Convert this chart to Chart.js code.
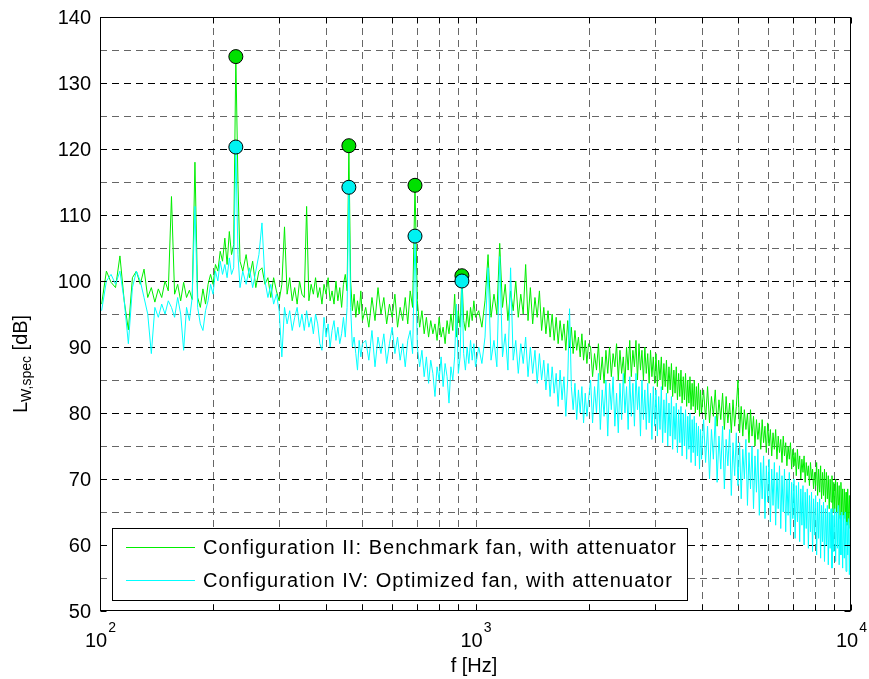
<!DOCTYPE html>
<html>
<head>
<meta charset="utf-8">
<title>Sound power spectrum</title>
<script src="https://cdn.jsdelivr.net/npm/chart.js@4.4.1/dist/chart.umd.min.js"></script>
<style>
    html, body { margin: 0; padding: 0; background: #fff; }
    canvas { display: block; }
</style>
</head>
<body>
<canvas id="spectrumChart" width="869" height="679"></canvas>
<script>
// frequency bins [Hz] (finer at low f, coarser at high f)
const freqHz = [
    101, 104, 107, 110, 113, 116, 119, 122, 125, 128,
    131, 134, 137, 140, 143, 146, 149, 152, 155, 158,
    161, 164, 167, 170, 173, 176, 179, 182, 185, 188,
    191, 194, 197, 200, 203, 206, 209, 212, 215, 218,
    221, 224, 227, 230,
    233, 236, 240, 245, 250, 255, 260, 265, 270, 275,
    280, 285, 290, 295, 300, 305, 310, 315, 320, 325,
    330, 335, 340, 345, 350, 355, 360, 365, 370, 375,
    380, 385, 390, 395, 400, 405, 410, 415, 420, 425,
    430, 435, 440, 445, 450, 455, 460, 465, 470, 475,
    480, 485, 490, 495, 500,
    510, 520, 530, 540, 550, 560, 570, 580, 590, 600,
    610, 620, 630, 640, 650, 660, 670, 680, 690, 700,
    710, 720, 730, 740, 750, 760, 770, 780, 790, 800,
    810, 820, 830, 840, 850, 860, 870, 880, 890, 900,
    910, 920, 930, 940, 950, 960, 970, 980, 990, 1000,
    1020, 1040, 1060, 1080, 1100, 1120, 1140, 1160, 1180, 1200,
    1220, 1240, 1260, 1280, 1300, 1320, 1340, 1360, 1380, 1400,
    1420, 1440, 1460, 1480, 1500, 1520, 1540, 1560, 1580, 1600,
    1620, 1640, 1660, 1680, 1700, 1720, 1740, 1760, 1780, 1800,
    1820, 1840, 1860, 1880, 1900, 1920, 1940, 1960, 1980, 2000,
    2025, 2050, 2075, 2100, 2125, 2150, 2175, 2200, 2225, 2250,
    2275, 2300, 2325, 2350, 2375, 2400, 2425, 2450, 2475, 2500,
    2525, 2550, 2575, 2600, 2625, 2650, 2675, 2700, 2725, 2750,
    2775, 2800, 2825, 2850, 2875, 2900, 2925, 2950, 2975, 3000,
    3025, 3050, 3075, 3100, 3125, 3150, 3175, 3200, 3225, 3250,
    3275, 3300, 3325, 3350, 3375, 3400, 3425, 3450, 3475, 3500,
    3525, 3550, 3575, 3600, 3625, 3650, 3675, 3700, 3725, 3750,
    3775, 3800, 3825, 3850, 3875, 3900, 3925, 3950, 3975, 4000,
    4050, 4100, 4150, 4200, 4250, 4300, 4350, 4400, 4450, 4500,
    4550, 4600, 4650, 4700, 4750, 4800, 4850, 4900, 4950, 5000,
    5050, 5100, 5150, 5200, 5250, 5300, 5350, 5400, 5450, 5500,
    5550, 5600, 5650, 5700, 5750, 5800, 5850, 5900, 5950, 6000,
    6050, 6100, 6150, 6200, 6250, 6300, 6350, 6400, 6450, 6500,
    6550, 6600, 6650, 6700, 6750, 6800, 6850, 6900, 6950, 7000,
    7050, 7100, 7150, 7200, 7250, 7300, 7350, 7400, 7450, 7500,
    7550, 7600, 7650, 7700, 7750, 7800, 7850, 7900, 7950, 8000,
    8050, 8100, 8150, 8200, 8250, 8300, 8350, 8400, 8450, 8500,
    8550, 8600, 8650, 8700, 8750, 8800, 8850, 8900, 8950, 9000,
    9050, 9100, 9150, 9200, 9250, 9300, 9350, 9400, 9450, 9500,
    9550, 9600, 9650, 9700, 9750, 9800, 9850, 9900, 9950, 10000
];

// Configuration II: benchmark fan, with attenuator [dB]
const benchmarkDb = [
    96.5, 101.5, 99.8, 99.0, 103.8, 97.0, 92.6, 100.5, 101.5, 99.5,
    101.8, 97.5, 99.0, 96.8, 98.8, 97.5, 100.0, 98.5, 112.8, 98.0,
    99.5, 97.0, 99.8, 97.5, 98.6, 97.2, 118.0, 97.5, 96.0, 98.8,
    96.5, 99.5, 101.0, 99.5, 102.5, 101.5, 104.5, 103.0, 106.5, 102.5,
    107.5, 104.0, 105.5, 134.0,
    115.0, 103.0, 101.5, 104.0, 100.5, 103.0, 99.0, 101.5, 102.0, 99.5,
    100.5, 97.5, 100.5, 98.5, 97.0, 99.5, 108.2, 98.0, 100.5, 97.0,
    99.0, 96.5, 100.0, 98.0, 97.5, 111.3, 97.0, 99.5, 98.0, 100.5,
    97.5, 99.0, 96.5, 99.5, 98.0, 100.5, 97.0, 98.5, 96.5, 100.0,
    97.0, 99.0, 96.0, 99.5, 101.0, 98.5, 120.5, 100.0, 95.5, 98.0,
    94.5, 97.0, 95.0, 98.5, 94.0,
    96.0, 93.0, 97.5, 94.0, 99.0, 95.0, 97.5, 93.5, 96.5, 94.5,
    98.0, 93.0, 96.0, 94.0, 97.5, 93.5, 98.5, 96.0, 114.5, 97.0,
    93.0, 95.5, 92.0, 94.5, 91.5, 94.0, 92.0, 93.5, 91.0, 94.5,
    91.5, 93.0, 90.5, 94.0, 92.0, 95.0, 92.5, 98.0, 91.5, 95.5,
    93.0, 100.8, 94.0, 92.5, 95.5, 93.0, 96.0, 94.0, 97.0, 94.5,
    95.5, 93.0, 97.0, 104.0, 94.5, 98.0, 95.0, 105.7, 96.0, 99.5,
    94.0, 98.5, 95.5, 100.0, 94.5, 98.0, 95.0, 102.5, 94.0, 99.0,
    93.5, 97.5, 94.5, 98.5, 92.5, 96.0, 92.0, 95.5, 91.5, 95.0,
    91.0, 94.5, 90.5, 94.0, 91.0, 93.5, 89.5, 94.0, 90.0, 93.0,
    89.0, 92.5, 89.5, 91.5, 88.5, 92.0, 88.0, 91.0, 87.5, 90.5,
    90.0, 85.5, 89.0, 86.5, 90.5, 85.0, 88.5, 84.5, 89.5, 86.0,
    90.0, 85.5, 89.0, 87.0, 90.5, 85.0, 89.5, 86.0, 88.5, 84.5,
    90.0, 86.5, 91.0, 85.5, 89.5, 87.0, 91.0, 85.0, 90.5, 86.5,
    89.5, 85.0, 90.0, 86.0, 89.0, 84.5, 89.5, 85.5, 88.5, 84.5,
    89.0, 84.0, 88.0, 85.0, 88.5, 83.5, 87.5, 84.0, 88.0, 83.0,
    87.0, 83.5, 87.5, 82.5, 86.5, 83.0, 87.0, 82.0, 86.0, 82.5,
    86.5, 81.5, 85.5, 82.0, 86.0, 81.0, 85.0, 81.5, 85.5, 80.5,
    84.5, 81.0, 85.0, 80.0, 84.0, 80.5, 84.5, 79.5, 83.5, 80.0,
    83.5, 79.0, 84.0, 78.5, 82.5, 79.5, 83.5, 78.0, 82.0, 79.0,
    83.0, 77.5, 82.5, 78.5, 81.5, 77.0, 82.0, 78.0, 81.0, 85.0,
    77.0, 81.0, 76.5, 80.5, 77.5, 80.0, 75.5, 80.5, 76.5, 79.5,
    75.0, 79.0, 76.0, 78.5, 74.5, 79.0, 75.5, 78.0, 74.0, 78.5,
    75.0, 77.5, 73.5, 77.0, 74.5, 77.5, 73.0, 76.5, 74.0, 76.0,
    72.5, 76.5, 73.5, 75.5, 72.0, 75.0, 73.0, 75.5, 71.5, 74.5,
    72.0, 74.0, 70.5, 74.5, 71.5, 73.5, 70.0, 73.0, 71.0, 73.5,
    69.5, 72.5, 70.5, 72.0, 69.0, 72.5, 70.0, 71.5, 68.5, 71.0,
    69.0, 72.5, 67.5, 71.5, 68.0, 72.0, 67.0, 71.0, 67.5, 71.5,
    66.5, 71.0, 67.0, 70.5, 65.5, 70.0, 66.5, 70.5, 65.0, 69.5,
    65.5, 70.0, 64.5, 69.5, 65.0, 69.0, 64.0, 69.5, 64.5, 68.5,
    63.5, 68.5, 64.0, 68.0, 63.0, 68.5, 63.5, 67.5, 62.5, 75.5
];

// Configuration IV: optimized fan, with attenuator [dB]
const optimizedDb = [
    95.5, 100.0, 101.0, 99.5, 101.5, 97.0, 90.5, 99.0, 101.5, 100.0,
    97.5, 95.0, 89.0, 96.0, 94.5, 96.5, 95.0, 97.0, 96.0, 94.5,
    97.5, 95.0, 89.5, 96.0, 94.0, 97.5, 111.3, 96.0, 93.5, 92.5,
    95.5, 97.0, 99.5, 98.0, 101.5, 100.0, 103.0, 101.0, 102.5, 100.5,
    103.5, 101.0, 102.0, 120.3,
    104.0, 99.0, 101.5, 99.5, 102.0, 99.0, 101.5, 104.0, 108.8, 100.0,
    97.5, 99.5, 96.5, 98.0, 95.5, 88.5, 96.0, 93.5, 95.5, 92.5,
    94.5, 96.0, 93.0, 95.0, 92.5, 95.5, 93.0, 94.5, 92.0, 95.0,
    93.5, 90.5, 89.5, 94.5, 91.5, 93.5, 90.0, 92.5, 94.0, 91.0,
    93.0, 90.5, 92.0, 94.5, 91.5, 96.0, 114.2, 96.0, 90.0, 91.5,
    89.0, 86.5, 91.0, 88.5, 90.5,
    91.0, 88.0, 92.5, 87.0, 91.5, 89.0, 92.0, 87.5, 90.5, 93.0,
    89.0, 91.5, 88.0, 90.5, 87.0, 91.0, 92.5, 89.0, 106.8, 90.0,
    87.0, 89.5, 85.5, 88.5, 84.5, 88.0, 86.0, 82.5, 87.0, 85.0,
    88.5, 84.0, 87.5, 85.5, 81.5, 87.0, 85.0, 88.5, 96.5, 86.0,
    88.5, 100.0, 89.0, 86.5, 90.0, 87.5, 91.0, 88.0, 90.5, 87.0,
    90.0, 87.5, 91.5, 102.0, 88.0, 91.0, 87.0, 103.7, 88.5, 92.0,
    86.5, 102.0, 88.0, 91.0, 86.0, 90.5, 87.5, 91.5, 85.5, 90.0,
    86.0, 89.5, 84.5, 89.0, 85.0, 88.0, 83.5, 87.5, 82.5, 87.0,
    83.0, 86.0, 81.0, 86.5, 82.0, 85.5, 79.5, 85.0, 95.8, 84.0,
    80.5, 84.5, 79.0, 83.5, 80.0, 84.0, 78.5, 83.0, 79.5, 82.0,
    85.0, 78.5, 84.0, 80.0, 86.0, 77.5, 83.5, 79.5, 85.0, 76.5,
    84.5, 80.5, 85.5, 78.0, 83.0, 77.0, 84.5, 79.0, 86.0, 80.0,
    84.0, 77.5, 85.5, 79.5, 84.5, 78.0, 86.0, 80.5, 84.0, 76.5,
    85.0, 79.0, 83.5, 77.5, 84.5, 78.5, 83.0, 76.0, 84.0, 78.0,
    83.5, 76.5, 82.5, 77.5, 84.0, 75.5, 82.0, 77.0, 83.0, 75.0,
    81.5, 76.5, 82.5, 74.5, 81.0, 76.0, 81.5, 74.0, 80.5, 75.5,
    81.0, 73.5, 80.0, 75.0, 80.5, 73.0, 79.5, 74.5, 80.0, 72.5,
    79.0, 74.0, 79.5, 72.0, 78.5, 73.5, 78.0, 71.5, 77.5, 73.0,
    79.0, 72.5, 78.0, 70.0, 77.5, 73.0, 79.5, 69.5, 76.5, 71.5,
    78.0, 68.5, 76.0, 72.0, 77.5, 67.5, 75.5, 70.5, 77.0, 69.0,
    75.5, 67.0, 74.5, 70.0, 76.0, 66.0, 74.0, 68.5, 75.0, 65.5,
    73.5, 68.0, 74.5, 64.5, 72.5, 67.0, 73.5, 64.0, 72.0, 66.5,
    73.0, 63.5, 71.5, 66.0, 72.5, 63.0, 71.0, 65.5, 72.0, 62.5,
    70.5, 65.0, 71.5, 62.0, 70.0, 64.5, 71.0, 61.5, 69.5, 64.0,
    70.0, 61.0, 69.0, 63.5, 69.5, 60.5, 68.5, 63.0, 69.0, 60.0,
    68.0, 62.5, 68.5, 59.5, 67.5, 62.0, 68.0, 59.0, 67.0, 61.5,
    67.5, 58.5, 66.5, 61.0, 67.0, 58.0, 66.0, 60.5, 66.5, 57.5,
    65.5, 60.0, 66.0, 57.0, 65.0, 59.5, 65.5, 56.5, 64.5, 59.0,
    65.5, 57.5, 65.0, 59.5, 66.0, 57.0, 64.5, 58.5, 65.0, 56.5,
    64.5, 58.0, 65.0, 56.0, 63.5, 58.5, 64.0, 55.5, 63.0, 56.5
];

// blade passing frequency and harmonics, marked with circles
const toneHz = [230, 460, 690, 920];
const toneBenchmarkDb = [134.0, 120.5, 114.5, 100.8];
const toneOptimizedDb = [120.3, 114.2, 106.8, 100.0];

const seriesLabels = [
    'Configuration II: Benchmark fan, with attenuator',
    'Configuration IV: Optimized fan, with attenuator'
];
const seriesColors = ['#00ee00', '#00ffff'];

// axes
const yTicks = [50, 60, 70, 80, 90, 100, 110, 120, 130, 140];
const yMinorGrid = [55, 65, 75, 85, 95, 105, 115, 125, 135];
const decadeHz = [100, 1000, 10000];
const decadeExponents = ['2', '3', '4'];
const xGridHz = [200, 300, 400, 500, 600, 700, 800, 900,
                 2000, 3000, 4000, 5000, 6000, 7000, 8000, 9000];

const FONT = '"Liberation Sans", Arial, Helvetica, sans-serif';

function toPoints(xs, ys) {
    return xs.map((x, i) => ({ x: x, y: ys[i] }));
}

// MATLAB-like axes: dashed grid, box, inward ticks, labels and legend
const matlabAxes = {
    id: 'matlabAxes',
    beforeDraw(chart) {
        const ctx = chart.ctx;
        ctx.save();
        ctx.fillStyle = '#fff';
        ctx.fillRect(0, 0, chart.width, chart.height);
        ctx.restore();
    },
    beforeDatasetsDraw(chart) {
        const { ctx, chartArea: a, scales: { x, y } } = chart;
        ctx.save();
        ctx.lineWidth = 1;
        ctx.setLineDash([7, 5]);

        ctx.strokeStyle = '#666';
        xGridHz.concat([1000]).forEach(f => {
            const px = Math.round(x.getPixelForValue(f)) + 0.5;
            ctx.beginPath();
            ctx.moveTo(px, a.bottom);
            ctx.lineTo(px, a.top);
            ctx.stroke();
        });
        yMinorGrid.forEach(v => {
            const py = Math.round(y.getPixelForValue(v)) + 0.5;
            ctx.beginPath();
            ctx.moveTo(a.left, py);
            ctx.lineTo(a.right, py);
            ctx.stroke();
        });
        ctx.strokeStyle = '#000';
        yTicks.slice(1, -1).forEach(v => {
            const py = Math.round(y.getPixelForValue(v)) + 0.5;
            ctx.beginPath();
            ctx.moveTo(a.left, py);
            ctx.lineTo(a.right, py);
            ctx.stroke();
        });
        ctx.restore();
    },
    afterDatasetsDraw(chart) {
        const { ctx, chartArea: a, scales: { x, y } } = chart;
        const L = Math.round(a.left) + 0.5, R = Math.round(a.right) - 0.5;
        const T = Math.round(a.top) + 0.5, B = Math.round(a.bottom) - 0.5;
        ctx.save();
        ctx.strokeStyle = '#000';
        ctx.lineWidth = 1;
        ctx.setLineDash([]);
        ctx.strokeRect(L, T, R - L, B - T);

        // tick marks
        ctx.beginPath();
        yTicks.forEach(v => {
            const py = Math.round(y.getPixelForValue(v)) + 0.5;
            ctx.moveTo(L, py); ctx.lineTo(L + 6, py);
            ctx.moveTo(R, py); ctx.lineTo(R - 6, py);
        });
        decadeHz.concat(xGridHz).forEach(f => {
            const px = Math.round(x.getPixelForValue(f)) + 0.5;
            ctx.moveTo(px, B); ctx.lineTo(px, B - 6);
            ctx.moveTo(px, T); ctx.lineTo(px, T + 6);
        });
        ctx.stroke();

        ctx.fillStyle = '#000';
        // y tick labels
        ctx.font = '20px ' + FONT;
        ctx.textAlign = 'right';
        ctx.textBaseline = 'alphabetic';
        yTicks.forEach(v => {
            ctx.fillText(String(v), 91, y.getPixelForValue(v) + 7);
        });

        // x tick labels 10^n
        ctx.textAlign = 'left';
        decadeHz.forEach((f, i) => {
            const px = x.getPixelForValue(f);
            ctx.font = '20px ' + FONT;
            const wBase = ctx.measureText('10').width;
            ctx.font = '14px ' + FONT;
            const wExp = ctx.measureText(decadeExponents[i]).width;
            const x0 = px - (wBase + wExp) / 2;
            ctx.font = '20px ' + FONT;
            ctx.fillText('10', x0, 647);
            ctx.font = '14px ' + FONT;
            ctx.fillText(decadeExponents[i], x0 + wBase + 1, 632);
        });

        // x axis title
        ctx.font = '20px ' + FONT;
        ctx.textAlign = 'center';
        ctx.fillText('f [Hz]', 474, 672);

        // y axis title: L_W,spec [dB]
        ctx.save();
        ctx.translate(27, 413);
        ctx.rotate(-Math.PI / 2);
        ctx.textAlign = 'left';
        ctx.font = '20px ' + FONT;
        ctx.fillText('L', 0, 0);
        let w = ctx.measureText('L').width;
        ctx.font = '14px ' + FONT;
        ctx.fillText('W,spec', w, 4);
        w += ctx.measureText('W,spec').width;
        ctx.font = '20px ' + FONT;
        ctx.fillText(' [dB]', w, 0);
        ctx.restore();

        // legend box
        ctx.fillStyle = '#fff';
        ctx.fillRect(112, 528, 575, 72);
        ctx.strokeRect(112.5, 528.5, 575, 72);
        const rows = [547, 580];
        seriesLabels.forEach((label, i) => {
            ctx.strokeStyle = seriesColors[i];
            ctx.beginPath();
            ctx.moveTo(126, rows[i] + 0.5);
            ctx.lineTo(195, rows[i] + 0.5);
            ctx.stroke();
            ctx.fillStyle = '#000';
            ctx.font = '20px ' + FONT;
            ctx.textAlign = 'left';
            if ('letterSpacing' in ctx) ctx.letterSpacing = '1.05px';
            ctx.fillText(label, 203, rows[i] + 7);
            if ('letterSpacing' in ctx) ctx.letterSpacing = '0px';
        });
        ctx.restore();
    }
};

let spectrumChart;
document.addEventListener('DOMContentLoaded', function() {
    const ctx = document.getElementById('spectrumChart').getContext('2d');
    spectrumChart = new Chart(ctx, {
        type: 'line',
        data: {
            datasets: [
                {
                    label: seriesLabels[0],
                    data: toPoints(freqHz, benchmarkDb),
                    borderColor: seriesColors[0],
                    borderWidth: 1,
                    pointRadius: 0,
                    tension: 0,
                    order: 4
                },
                {
                    label: seriesLabels[1],
                    data: toPoints(freqHz, optimizedDb),
                    borderColor: seriesColors[1],
                    borderWidth: 1,
                    pointRadius: 0,
                    tension: 0,
                    order: 3
                },
                {
                    label: 'tones II',
                    data: toPoints(toneHz, toneBenchmarkDb),
                    showLine: false,
                    pointRadius: 7,
                    pointBackgroundColor: '#00e000',
                    pointBorderColor: '#000',
                    pointBorderWidth: 1,
                    order: 2
                },
                {
                    label: 'tones IV',
                    data: toPoints(toneHz, toneOptimizedDb),
                    showLine: false,
                    pointRadius: 7,
                    pointBackgroundColor: '#00f2f2',
                    pointBorderColor: '#000',
                    pointBorderWidth: 1,
                    order: 1
                }
            ]
        },
        options: {
            responsive: false,
            animation: false,
            layout: { padding: { left: 100, right: 18, top: 17, bottom: 68 } },
            plugins: {
                legend: { display: false },
                tooltip: { enabled: false }
            },
            scales: {
                x: { type: 'logarithmic', min: 100, max: 10000, display: false },
                y: { type: 'linear', min: 50, max: 140, display: false }
            }
        },
        plugins: [matlabAxes]
    });
});
</script>
</body>
</html>
